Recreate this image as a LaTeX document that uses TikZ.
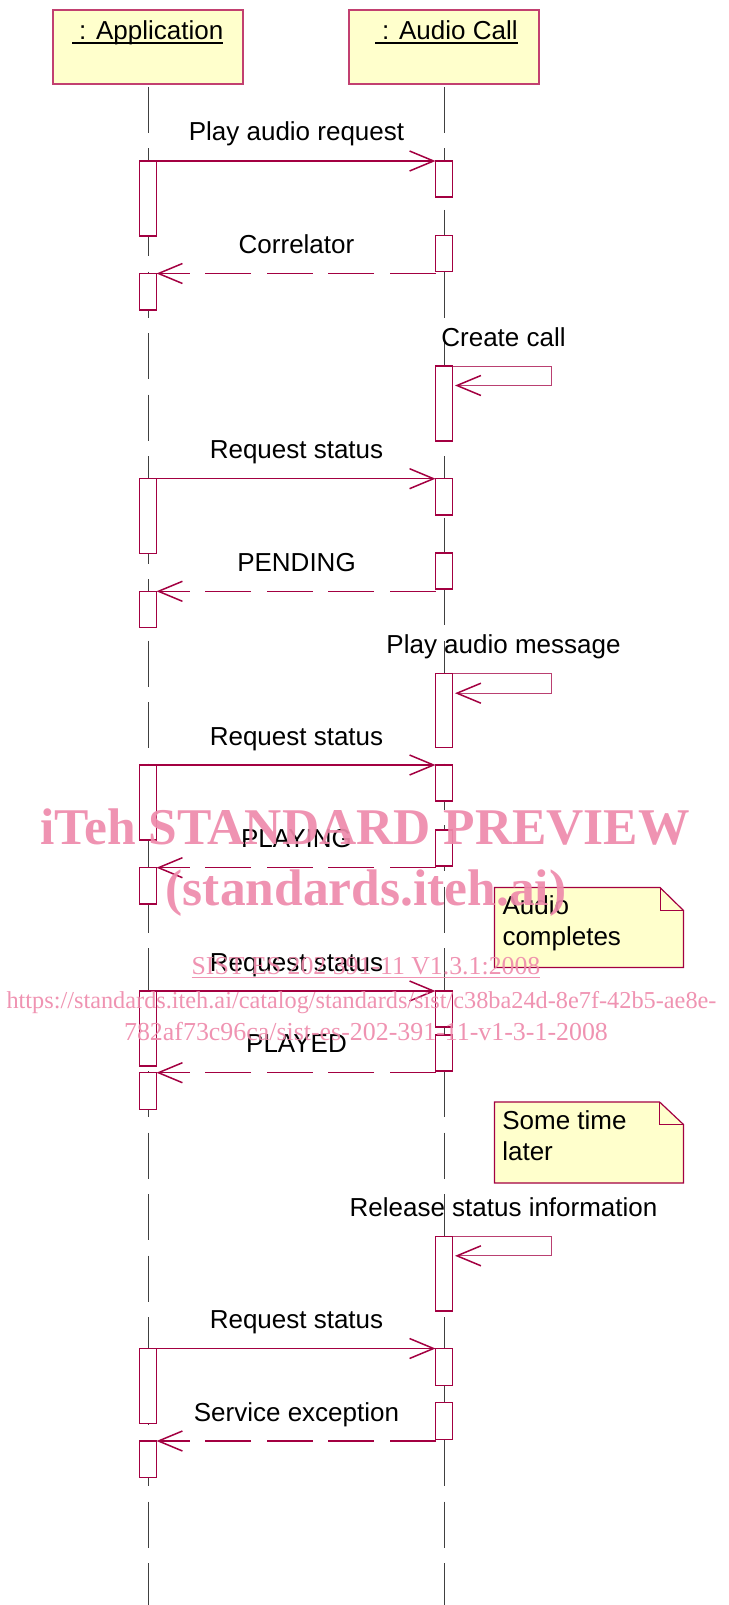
\documentclass[tikz,border=0pt]{standalone}
\usepackage{fontspec}
\setmainfont{Liberation Sans}
\newfontfamily\wmfont{Liberation Serif}
\usetikzlibrary{arrows.meta}
\definecolor{crim}{HTML}{A30041}
\definecolor{hdr}{HTML}{C24070}
\definecolor{ylw}{HTML}{FFFFCC}
\definecolor{wm}{HTML}{EE8AAB}
\definecolor{lifec}{HTML}{404040}
\begin{document}
\begin{tikzpicture}[x=1pt,y=-1pt,
  every node/.style={inner sep=0pt, outer sep=0pt},
  txt/.style={font=\fontsize{26}{30}\selectfont, text=black},
  head/.style={draw=hdr, fill=ylw, line width=1.3pt, minimum width=190pt, minimum height=74pt},
  life/.style={draw=lifec, line width=0.9pt, dash pattern=on 46pt off 15.5pt},
  act/.style={draw=crim, fill=white, line width=1.2pt, minimum width=17pt},
  msg/.style={draw=crim, line width=1.2pt, -{Straight Barb[length=24pt,width=20pt,line width=1.5pt,color=crim]}},
  ret/.style={msg, dash pattern=on 46pt off 15.5pt},
  selfm/.style={msg, draw=crim!75, line width=1pt},
  notebox/.style={draw=crim, fill=ylw, line width=1.2pt},
  wmbig/.style={font=\wmfont\bfseries\fontsize{51.5}{52}\selectfont, text=wm, text opacity=0.92},
  wmsmall/.style={font=\wmfont\fontsize{25}{25}\selectfont, text=wm, text opacity=0.92}
]
\path[use as bounding box] (0,0) rectangle (728,1605);
\coordinate (bot) at (0,1605);

% headers
\node[head, anchor=north] (app) at (148,10) {};
\node[head, anchor=north] (aud) at (444,10) {};
\node[txt, anchor=base west] (appt) at (72,40) {\ : Application};
\node[txt, anchor=base west] (audt) at (375,40) {\ : Audio Call};
\draw[line width=1.8pt] ([yshift=-3pt]appt.base west) -- ([yshift=-3pt]appt.base east);
\draw[line width=1.8pt] ([yshift=-3pt]audt.base west) -- ([yshift=-3pt]audt.base east);

% lifelines
\draw[life] ([yshift=-3pt]app.south) -- (app.south |- bot);
\draw[life] ([yshift=-3pt]aud.south) -- (aud.south |- bot);

% activations
\node[act, minimum height=75pt, anchor=north] (a1) at (148,161) {};
\node[act, minimum height=36pt, anchor=north] (b1) at (444,161) {};
\node[act, minimum height=36pt, anchor=north] (b2) at (444,235.5) {};
\node[act, minimum height=36.5pt, anchor=north] (a2) at (148,273.5) {};
\node[act, minimum height=75pt, anchor=north] (b3) at (444,366) {};
\node[act, minimum height=75pt, anchor=north] (a3) at (148,478.7) {};
\node[act, minimum height=36.3pt, anchor=north] (b4) at (444,478.7) {};
\node[act, minimum height=36pt, anchor=north] (b5) at (444,553) {};
\node[act, minimum height=36.3pt, anchor=north] (a4) at (148,591.3) {};
\node[act, minimum height=74pt, anchor=north] (b6) at (444,673.7) {};
\node[act, minimum height=75pt, anchor=north] (a5) at (148,765) {};
\node[act, minimum height=36pt, anchor=north] (b7) at (444,765) {};
\node[act, minimum height=36pt, anchor=north] (b8) at (444,830) {};
\node[act, minimum height=36.3pt, anchor=north] (a6) at (148,867.7) {};
\node[act, minimum height=75pt, anchor=north] (a7) at (148,991) {};
\node[act, minimum height=36pt, anchor=north] (b9) at (444,991) {};
\node[act, minimum height=36pt, anchor=north] (b10) at (444,1035) {};
\node[act, minimum height=36.8pt, anchor=north] (a8) at (148,1072.7) {};
\node[act, minimum height=74.7pt, anchor=north] (b11) at (444,1236.3) {};
\node[act, minimum height=75pt, anchor=north] (a9) at (148,1348.5) {};
\node[act, minimum height=36.8pt, anchor=north] (b12) at (444,1348.5) {};
\node[act, minimum height=36.8pt, anchor=north] (b13) at (444,1402.4) {};
\node[act, minimum height=36.7pt, anchor=north] (a10) at (148,1441) {};

% messages
\draw[msg] (a1.north east) -- (b1.north west);
\node[txt, anchor=base] (l1) at (296.5,141) {Play audio request};
\draw[ret] (b2.west |- a2.north) -- (a2.north east);
\node[txt, anchor=base] (l2) at (296.5,253.5) {Correlator};
\draw[selfm] (b3.north east) -- ++(99,0) -- ++(0,19.5) -- ++(-96.5,0);
\node[txt, anchor=base] (l3) at (503.5,346) {Create call};
\draw[msg] (a3.north east) -- (b4.north west);
\node[txt, anchor=base] (l4) at (296.5,458) {Request status};
\draw[ret] (b5.west |- a4.north) -- (a4.north east);
\node[txt, anchor=base] (l5) at (296.5,571) {PENDING};
\draw[selfm] (b6.north east) -- ++(99,0) -- ++(0,19.5) -- ++(-96.5,0);
\node[txt, anchor=base] (l6) at (503.5,653.7) {Play audio message};
\draw[msg] (a5.north east) -- (b7.north west);
\node[txt, anchor=base] (l7) at (296.5,745) {Request status};
\draw[ret] (b8.west |- a6.north) -- (a6.north east);
\node[txt, anchor=base] (l8) at (296.5,847.7) {PLAYING};
\draw[msg] (a7.north east) -- (b9.north west);
\node[txt, anchor=base] (l9) at (296.5,971) {Request status};
\draw[ret] (b10.west |- a8.north) -- (a8.north east);
\node[txt, anchor=base] (l10) at (296.5,1052.7) {PLAYED};
\draw[selfm] (b11.north east) -- ++(99,0) -- ++(0,19.5) -- ++(-96.5,0);
\node[txt, anchor=base] (l11) at (503.5,1216.3) {Release status information};
\draw[msg] (a9.north east) -- (b12.north west);
\node[txt, anchor=base] (l12) at (296.5,1328.5) {Request status};
\draw[ret] (b13.west |- a10.north) -- (a10.north east);
\node[txt, anchor=base] (l13) at (296.5,1421) {Service exception};

% notes
\draw[notebox] (494.5,887.5) -- (660,887.5) -- (683.5,910.5) -- (683.5,967.5) -- (494.5,967.5) -- cycle;
\draw[draw=crim, line width=1pt] (660,887.5) -- (660,910.5) -- (683.5,910.5);
\node[txt, anchor=base west] (n1a) at (502.5,914.3) {Audio};
\node[txt, anchor=base west] (n1b) at (502.5,945) {completes};

\draw[notebox] (494.5,1102) -- (659.6,1102) -- (683.5,1124.5) -- (683.5,1183) -- (494.5,1183) -- cycle;
\draw[draw=crim, line width=1pt] (659.6,1102) -- (659.6,1124.5) -- (683.5,1124.5);
\node[txt, anchor=base west] (n2a) at (502.3,1129.5) {Some time};
\node[txt, anchor=base west] (n2b) at (502.3,1160.3) {later};

% watermark
\node[wmbig, anchor=base] (w1) at (365,844) {iTeh STANDARD PREVIEW};
\node[wmbig, anchor=base] (w2) at (366,905) {(standards.iteh.ai)};
\node[wmsmall, anchor=base, font=\wmfont\fontsize{25.8}{26}\selectfont] (w3) at (366,974.5) {SIST ES 202 391-11 V1.3.1:2008};
\draw[draw=wm, opacity=0.92, line width=1.2pt] ([yshift=-3pt]w3.base west) -- ([yshift=-3pt]w3.base east);
\node[wmsmall, anchor=base, font=\wmfont\fontsize{24.3}{25}\selectfont] (w4) at (361.5,1008.3) {https://standards.iteh.ai/catalog/standards/sist/c38ba24d-8e7f-42b5-ae8e-};
\node[wmsmall, anchor=base, font=\wmfont\fontsize{25.9}{26}\selectfont] (w5) at (366,1040) {782af73c96ca/sist-es-202-391-11-v1-3-1-2008};
\end{tikzpicture}
\end{document}
